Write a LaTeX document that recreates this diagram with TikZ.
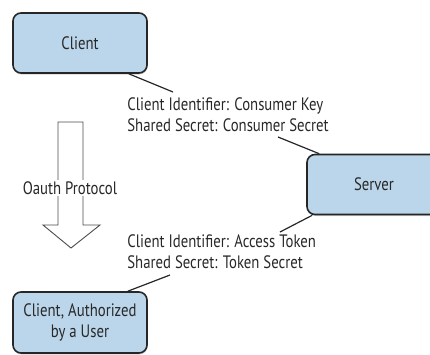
\documentclass[tikz,border=0pt]{standalone}
\usepackage{fontspec}
\newfontfamily\diagfont{PT Sans}[FakeStretch=0.82]
\usetikzlibrary{shadows}

\definecolor{boxblue}{RGB}{187,214,234}
\definecolor{textgray}{RGB}{40,40,40}

\begin{document}
\begin{tikzpicture}[x=1pt, y=-1pt, thick, font={\diagfont\fontsize{18}{21}\selectfont}]
    \tikzstyle{box_blue} = [draw=black!85, line width=1.6pt, rounded corners=8pt, fill=boxblue, minimum width=134pt, minimum height=60pt, align=center, text=textgray, drop shadow={shadow xshift=0.5pt, shadow yshift=-1.5pt, opacity=0.35}]
    \tikzstyle{label_plain} = [draw=none, align=left, text=textgray, inner sep=0pt]
    \tikzstyle{line_black} = [black!85, line width=1.2pt]

    \clip (0,0) rectangle (430,354);

    \node[box_blue] (client) at (80,43) {Client};
    \node[box_blue] (server) at (374,184.5) {Server};
    \node[box_blue, minimum height=61pt] (authorized) at (80,322.5) {Client, Authorized\\by a User};

    \node[label_plain, anchor=base west] (consumer) at (127,131) {Client Identifier: Consumer Key\\Shared Secret: Consumer Secret};
    \node[label_plain, anchor=base west] (access) at (127,268) {Client Identifier: Access Token\\Shared Secret: Token Secret};

    \draw[line_black] ([xshift=-19pt]client.south east) -- ([xshift=46pt,yshift=39pt]consumer.base west);
    \draw[line_black] ([xshift=151pt,yshift=-6pt]consumer.base west) -- ([xshift=13pt]server.north west);
    \draw[line_black] ([xshift=6pt]server.south west) -- ([xshift=153pt,yshift=36pt]access.base west);
    \draw[line_black] ([xshift=43pt,yshift=-7pt]access.base west) -- ([xshift=-20pt]authorized.north east);

    % hollow arrow for the protocol
    \draw[black!70, line width=0.9pt, fill=white] (58,122) -- (83,122) -- (83,225) -- (100,225) -- (71,248) -- (43,225) -- (58,225) -- cycle;
    \node[draw=none, fill=white, text=textgray, inner sep=1pt] (protocol) at (70,188) {Oauth Protocol};
\end{tikzpicture}
\end{document}
